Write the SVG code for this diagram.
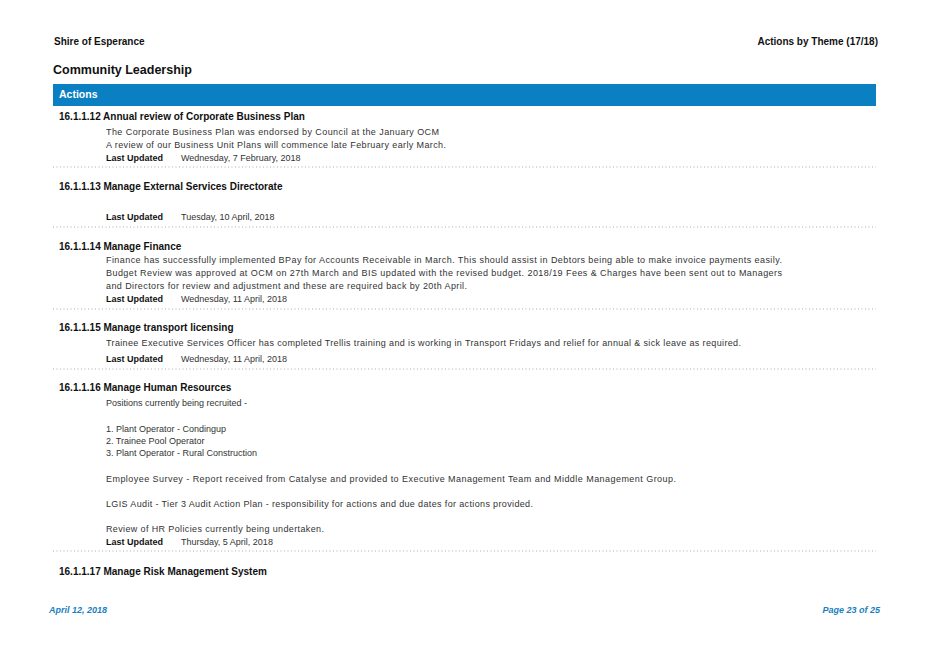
<svg xmlns="http://www.w3.org/2000/svg" width="928" height="657" viewBox="0 0 928 657">
<style>
text{font-family:"Liberation Sans",Arial,sans-serif;fill:#111}
.h{font-size:10px;font-weight:bold}
.b{font-size:9px;fill:#333}
.lu{font-size:9px;font-weight:bold}
.d{stroke:#999;stroke-width:0.8;stroke-dasharray:1 2.5}
.f{font-size:9px;font-weight:bold;font-style:italic;fill:#1a7fc0}
</style>
<rect width="928" height="657" fill="#fff"/>
<text x="54" y="45" class="h" font-size="9.5">Shire of Esperance</text>
<text x="878" y="45" class="h" text-anchor="end">Actions by Theme  (17/18)</text>
<text x="53" y="74" font-size="12.5" font-weight="bold">Community Leadership</text>
<rect x="53" y="84" width="823" height="22" fill="#0a7fc2"/>
<text x="59" y="98" font-size="10.5" font-weight="bold" style="fill:#fff">Actions</text>
<g id="a12">
<text x="59" y="120" class="h">16.1.1.12  Annual review of Corporate Business Plan</text>
<text x="106" y="135" class="b" textLength="333">The Corporate Business Plan was endorsed by Council at the January OCM</text>
<text x="106" y="148" class="b" textLength="340">A review of our Business Unit Plans will commence late February early March.</text>
<text x="106" y="161" class="lu">Last Updated</text><text x="181" y="161" class="b">Wednesday, 7 February, 2018</text>
</g>
<g id="a13">
<text x="59" y="190" class="h">16.1.1.13  Manage External Services Directorate</text>
<text x="106" y="220" class="lu">Last Updated</text><text x="181" y="220" class="b">Tuesday, 10 April, 2018</text>
</g>
<g id="a14">
<text x="59" y="250" class="h">16.1.1.14  Manage Finance</text>
<text x="106" y="263" class="b" textLength="676">Finance has successfully implemented BPay for Accounts Receivable in March.  This should assist in Debtors being able to make invoice payments easily.</text>
<text x="106" y="276" class="b" textLength="676">Budget Review was approved at OCM on 27th March and BIS updated with the revised budget.  2018/19 Fees &amp; Charges have been sent out to Managers</text>
<text x="106" y="289" class="b" textLength="361">and Directors for review and adjustment and these are required back by 20th April.</text>
<text x="106" y="302" class="lu">Last Updated</text><text x="181" y="302" class="b">Wednesday, 11 April, 2018</text>
</g>
<g id="a15">
<text x="59" y="331" class="h">16.1.1.15  Manage transport licensing</text>
<text x="106" y="346" class="b" textLength="635">Trainee Executive Services Officer has completed Trellis training and is working in Transport Fridays and relief for annual &amp; sick leave as required.</text>
<text x="106" y="362" class="lu">Last Updated</text><text x="181" y="362" class="b">Wednesday, 11 April, 2018</text>
</g>
<g id="a16">
<text x="59" y="391" class="h">16.1.1.16  Manage Human Resources</text>
<text x="106" y="406" class="b">Positions currently being recruited -</text>
<text x="106" y="432" class="b">1.  Plant Operator - Condingup</text>
<text x="106" y="444" class="b">2.  Trainee Pool Operator</text>
<text x="106" y="456" class="b">3.  Plant Operator - Rural Construction</text>
<text x="106" y="482" class="b" textLength="570">Employee Survey - Report received from Catalyse and provided to Executive Management Team and Middle Management Group.</text>
<text x="106" y="507" class="b" textLength="427">LGIS Audit - Tier 3 Audit Action Plan - responsibility for actions and due dates for actions provided.</text>
<text x="106" y="532" class="b" textLength="218">Review of HR Policies currently being undertaken.</text>
<text x="106" y="545" class="lu">Last Updated</text><text x="181" y="545" class="b">Thursday, 5 April, 2018</text>
</g>
<g id="a17">
<text x="59" y="575" class="h">16.1.1.17  Manage Risk Management System</text>
</g>
<g id="lines">
<line x1="53" y1="167" x2="876" y2="167" class="d"/>
<line x1="53" y1="227" x2="876" y2="227" class="d"/>
<line x1="53" y1="309" x2="876" y2="309" class="d"/>
<line x1="53" y1="369" x2="876" y2="369" class="d"/>
<line x1="53" y1="551" x2="876" y2="551" class="d"/>
</g>
<text x="49" y="613" class="f">April 12, 2018</text>
<text x="880" y="613" class="f" text-anchor="end">Page 23 of 25</text>
</svg>
